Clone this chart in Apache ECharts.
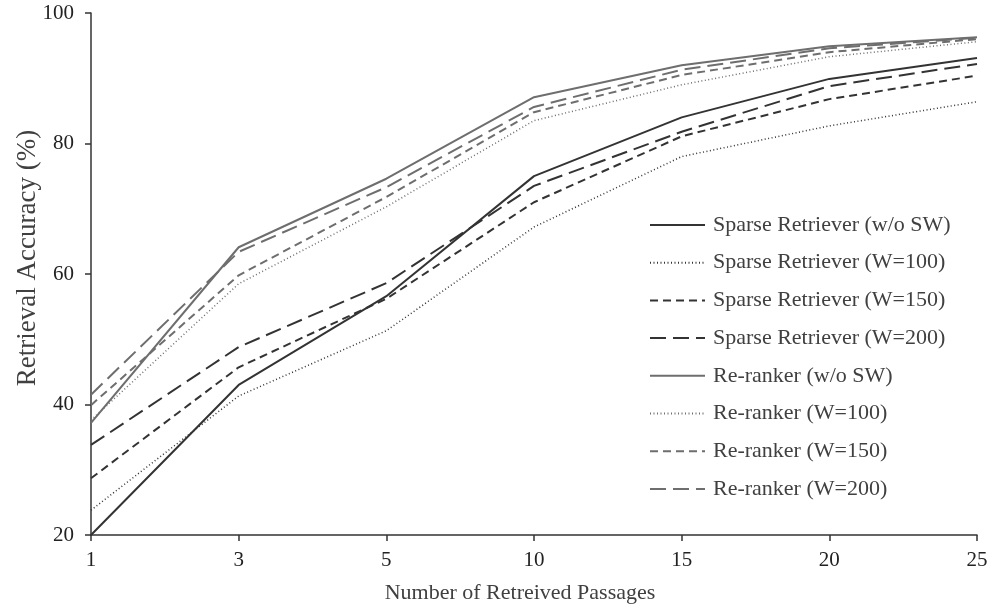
<!DOCTYPE html>
<html>
<head>
<meta charset="utf-8">
<script src="https://cdn.jsdelivr.net/npm/echarts@6/dist/echarts.min.js"></script>
<style>
html,body{margin:0;padding:0;background:#fff;}
#chart{width:991px;height:609px;}
</style>
</head>
<body>
<div id="chart"></div>
<script>
var categories = ['1', '3', '5', '10', '15', '20', '25'];
var yTicks = [20, 40, 60, 80, 100];
var seriesNames = [
  'Sparse Retriever (w/o SW)',
  'Sparse Retriever (W=100)',
  'Sparse Retriever (W=150)',
  'Sparse Retriever (W=200)',
  'Re-ranker (w/o SW)',
  'Re-ranker (W=100)',
  'Re-ranker (W=150)',
  'Re-ranker (W=200)'
];
var sparseWoSW  = [20.0, 43.0, 56.6, 75.0, 84.0, 89.9, 93.1];
var sparseW100  = [23.8, 41.3, 51.3, 67.2, 78.0, 82.7, 86.4];
var sparseW150  = [28.7, 45.7, 56.2, 71.0, 81.1, 86.8, 90.4];
var sparseW200  = [33.8, 48.8, 58.6, 73.5, 81.8, 88.8, 92.2];
var rerankWoSW  = [37.2, 64.1, 74.6, 87.1, 92.0, 94.9, 96.3];
var rerankW100  = [37.6, 58.5, 70.3, 83.5, 89.0, 93.3, 95.6];
var rerankW150  = [39.9, 59.8, 71.8, 84.8, 90.5, 94.0, 96.0];
var rerankW200  = [41.5, 63.4, 73.3, 85.6, 91.3, 94.6, 96.2];

var values = [sparseWoSW, sparseW100, sparseW150, sparseW200, rerankWoSW, rerankW100, rerankW150, rerankW200];
var dark = '#333333', grey = '#6e6e6e';
var styles = [
  {color: dark, type: 'solid', width: 2},
  {color: dark, type: [1, 2.5], width: 1.5},
  {color: dark, type: [8, 5], width: 2},
  {color: dark, type: [16, 7], width: 2},
  {color: grey, type: 'solid', width: 2},
  {color: grey, type: [1, 2.5], width: 1.5},
  {color: grey, type: [8, 5], width: 2},
  {color: grey, type: [16, 7], width: 2}
];

var font = '"Liberation Serif", "Times New Roman", serif';
var series = seriesNames.map(function (n, i) {
  return {
    name: n, type: 'line', data: values[i], symbol: 'none', smooth: false,
    lineStyle: styles[i], itemStyle: {color: styles[i].color},
    emphasis: {disabled: true}, animation: false
  };
});

var chart = echarts.init(document.getElementById('chart'));
chart.setOption({
  animation: false,
  backgroundColor: '#ffffff',
  grid: {left: 91, right: 14, top: 13, bottom: 74, containLabel: false, outerBoundsMode: 'none'},
  legend: {
    show: true,
    orient: 'vertical', left: 644, top: 209,
    itemWidth: 55, itemHeight: 14, itemGap: 15.7,
    itemStyle: {opacity: 0},
    textStyle: {fontFamily: font, fontSize: 22, color: '#404040', padding: [0, 0, 0, 3]},
    data: seriesNames
  },
  xAxis: {
    type: 'category', data: categories, boundaryGap: false,
    name: 'Number of Retreived Passages', nameLocation: 'middle', nameGap: 47,
    nameMoveOverlap: false,
    nameTextStyle: {fontFamily: font, fontSize: 22, color: '#404040', padding: [0, 28, 0, 0]},
    axisLine: {lineStyle: {color: '#333', width: 1.5}},
    axisTick: {show: true, inside: false, length: 6, alignWithLabel: true, lineStyle: {color: '#333', width: 1.5}},
    axisLabel: {fontFamily: font, fontSize: 21, color: '#222', margin: 15},
    splitLine: {show: false}
  },
  yAxis: {
    type: 'value', min: yTicks[0], max: yTicks[yTicks.length - 1], interval: 20,
    name: 'Retrieval Accuracy (%)', nameLocation: 'middle', nameGap: 50, nameRotate: 90,
    nameMoveOverlap: false,
    nameTextStyle: {fontFamily: font, fontSize: 27, color: '#404040', padding: [0, 0, 0, 32]},
    axisLine: {show: true, lineStyle: {color: '#333', width: 1.5}},
    axisTick: {show: true, inside: false, length: 6, lineStyle: {color: '#333', width: 1.5}},
    axisLabel: {fontFamily: font, fontSize: 21, color: '#222', margin: 17},
    splitLine: {show: false}
  },
  series: series
});
</script>
</body>
</html>
